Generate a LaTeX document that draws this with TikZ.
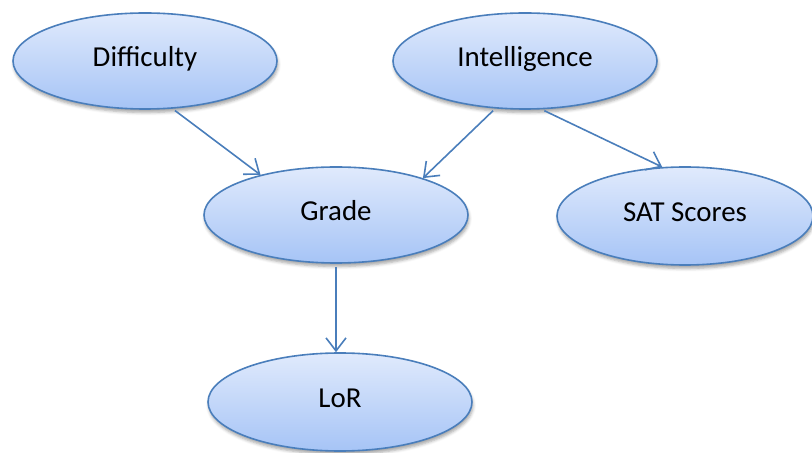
\documentclass[tikz,border=0pt]{standalone}
\usepackage{fontspec}
\setmainfont{Carlito}
\usetikzlibrary{arrows.meta,shapes.geometric,shadows.blur}

\definecolor{edgeblue}{HTML}{4A7EBB}
\definecolor{filltop}{HTML}{E0EAFC}
\definecolor{fillbottom}{HTML}{A6C4F6}

\tikzset{
  var/.style={
    ellipse, draw=edgeblue, line width=1.6bp,
    top color=filltop, bottom color=fillbottom,
    minimum width=264bp, minimum height=96bp, inner sep=0pt,
    text height=19bp, text depth=8bp,
    font=\fontsize{29}{34}\selectfont,
    blur shadow={shadow xshift=1bp, shadow yshift=-3.5bp,
                 shadow blur radius=3bp, shadow opacity=35}
  },
  edge/.style={
    draw=edgeblue, line width=1.6bp, shorten <=3bp,
    -{Straight Barb[length=13bp,width=20bp,line width=1.6bp]}
  }
}

\begin{document}
\begin{tikzpicture}[x=1bp,y=-1bp]
  \useasboundingbox (0,0) rectangle (812,453);

  \node[var] (d) at (145,61)  {Difficulty};
  \node[var] (i) at (525,61)  {Intelligence};
  \node[var] (g) at (336,215) {Grade};
  \node[var, minimum width=256bp, minimum height=98bp] (s) at (685,216) {SAT Scores};
  \node[var, minimum height=98bp] (l) at (340,402) {LoR};

  \draw[edge] (d.-60)  -- (g.152);
  \draw[edge] (i.-122) -- (g.23);
  \draw[edge] (i.-71)  -- (s.115);
  \draw[edge] (g.south) -- (g.south |- l.north);
\end{tikzpicture}
\end{document}
